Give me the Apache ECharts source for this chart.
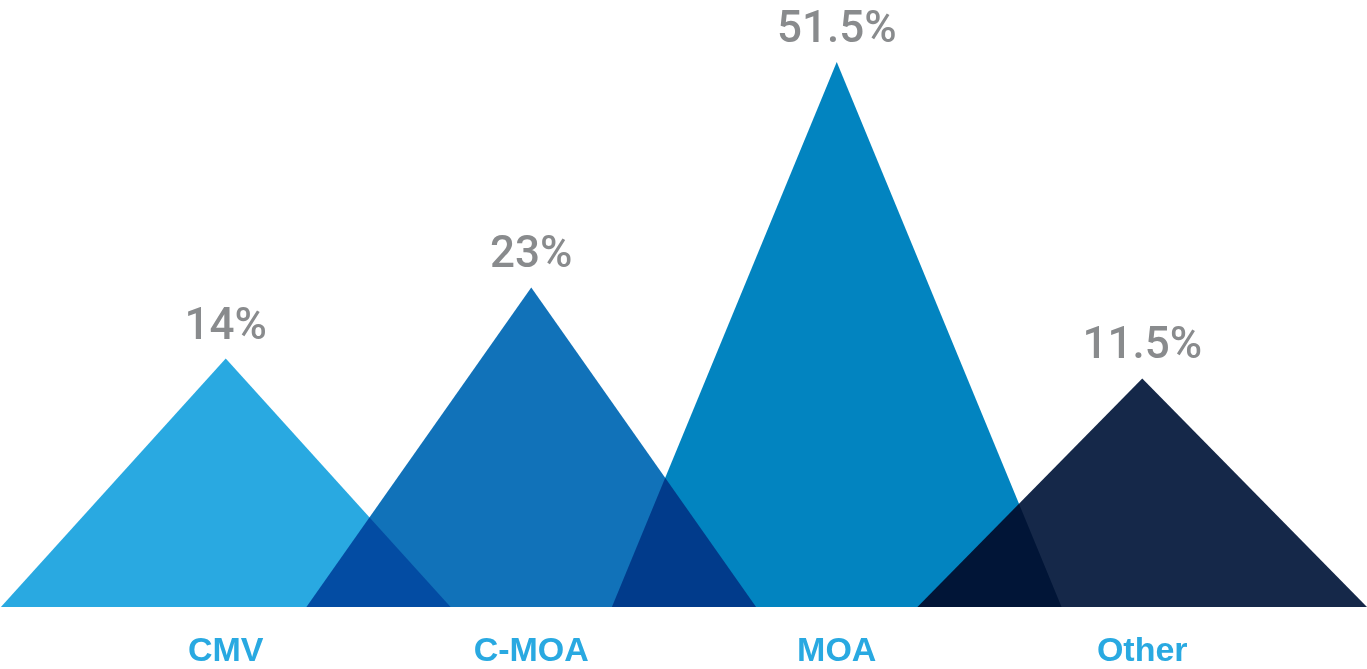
<!DOCTYPE html>
<html>
<head>
<meta charset="utf-8">
<title>Distribution</title>
<script src="https://cdn.jsdelivr.net/npm/echarts@6/dist/echarts.min.js"></script>
<style>
  html, body { margin: 0; padding: 0; background: #ffffff; }
  #chart { width: 1367px; height: 669px; }
</style>
</head>
<body>
<div id="chart"></div>
<script>
// Categories and their shares (percent)
const categories = ['CMV', 'C-MOA', 'MOA', 'Other'];
const shares = [14, 23, 51.5, 11.5];
const peakColors = ['#29a9e1', '#1172b9', '#0284c0', '#152849'];

// Value range of the hidden y axis; triangles rise from its floor
const yMin = -17.4;
const yMax = 52;

const chart = echarts.init(document.getElementById('chart'), null, { renderer: 'canvas' });

const option = {
  backgroundColor: '#ffffff',
  animation: false,
  grid: { left: 73, right: 72, top: 58, bottom: 60 },
  xAxis: {
    type: 'category',
    data: categories,
    axisLine: { show: false },
    axisTick: { show: false },
    splitLine: { show: false },
    axisLabel: {
      color: '#29a9e1',
      fontFamily: '"Liberation Sans", Arial, sans-serif',
      fontWeight: 'bold',
      fontSize: 34,
      margin: 28
    }
  },
  yAxis: {
    type: 'value',
    min: yMin,
    max: yMax,
    show: false,
    splitLine: { show: false }
  },
  series: [{
    type: 'custom',
    blendMode: 'multiply',
    clip: false,
    data: shares.map((v, i) => [i, v]),
    renderItem: function (params, api) {
      const i = api.value(0);
      const v = api.value(1);
      const peak = api.coord([i, v]);
      const base = api.coord([i, yMin]);
      const band = api.size([1, 0])[0];
      const half = band * 0.736;
      return {
        type: 'group',
        children: [
          {
            type: 'polygon',
            shape: {
              points: [
                [peak[0] - half, base[1]],
                [peak[0], peak[1]],
                [peak[0] + half, base[1]]
              ]
            },
            style: { fill: peakColors[i] }
          },
          {
            type: 'text',
            style: {
              text: v + '%',
              x: peak[0],
              y: peak[1] - 9,
              align: 'center',
              verticalAlign: 'bottom',
              fill: '#898b8d',
              fontFamily: 'Roboto, "Liberation Sans", sans-serif',
              fontWeight: 500,
              fontSize: 44
            }
          }
        ]
      };
    }
  }]
};

chart.setOption(option);
</script>
</body>
</html>
